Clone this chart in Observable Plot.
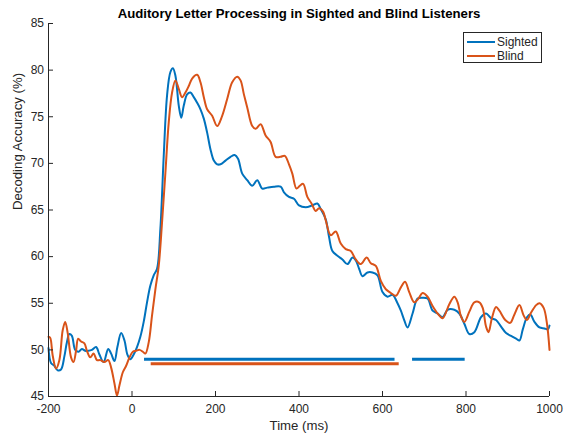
<!DOCTYPE html>
<html><head><meta charset="utf-8">
<script src="https://cdn.jsdelivr.net/npm/d3@7"></script>
<script src="https://cdn.jsdelivr.net/npm/@observablehq/plot@0.6"></script>
<style>
body{margin:0;background:#fff;}
#wrap{position:relative;width:564px;height:436px;font-family:"Liberation Sans",Arial,sans-serif;}
#legend{position:absolute;left:463px;top:32px;width:79px;height:31px;border:1px solid #262626;background:#fff;box-sizing:border-box;font-size:12px;color:#262626;}
.row{position:absolute;left:3px;height:14px;display:flex;align-items:center;white-space:nowrap;}
.sw{width:28px;height:2px;margin-right:2px;}
</style></head>
<body><div id="wrap"><div id="legend"></div></div>
<script>
const title = "Auditory Letter Processing in Sighted and Blind Listeners";
const xLabel = "Time (ms)";
const yLabel = "Decoding Accuracy (%)";
const seriesNames = ["Sighted", "Blind"];
const seriesColors = ["#0072BD", "#D95319"];
const xTicks = [-200, 0, 200, 400, 600, 800, 1000];
const yTicks = [45, 50, 55, 60, 65, 70, 75, 80, 85];

const sightedTime = [-200,-194,-186,-178,-170,-162,-156,-150,-144,-136,-128,-120,-112,-104,-96,-86,-78,-68,-57,-50,-42,-35,-26,-18,-11,-4,4,12,20,28,36,44,52,60,68,76,84,92,98,104,112,118,124,132,140,148,156,164,172,180,188,196,204,212,224,236,246,254,264,276,288,300,312,324,340,356,364,376,388,400,416,432,444,452,464,472,480,492,504,516,528,536,544,552,564,576,588,600,612,624,636,644,652,660,672,684,696,708,720,732,744,756,772,784,796,808,820,836,848,860,872,884,896,908,920,928,936,946,954,964,976,988,996,1000];
const sightedAcc = [50.2,48.6,48.3,47.8,47.9,49.3,50.8,51.7,51.5,50.0,49.8,50.1,49.9,49.9,50.0,50.3,49.5,48.7,50.1,49.6,48.8,50.3,51.8,51.0,49.5,49.0,49.5,50.3,51.4,53.0,55.1,56.9,58.0,58.7,63.0,70.8,77.3,79.8,80.2,79.4,76.2,74.9,76.2,77.4,77.6,77.1,76.5,75.8,74.8,73.3,71.5,70.3,69.9,69.9,70.3,70.7,70.9,70.5,68.9,68.2,67.6,68.2,67.3,67.4,67.5,67.5,66.9,66.4,66.2,65.5,65.3,65.5,65.7,65.1,64.0,62.1,60.6,60.1,59.7,59.2,59.9,59.6,58.7,57.9,58.3,58.3,58.0,56.2,55.7,55.9,55.0,54.2,53.2,52.4,53.9,55.5,55.6,55.5,54.2,53.9,53.5,54.3,54.3,53.9,52.8,51.7,51.9,53.5,53.9,53.4,53.2,52.5,51.8,51.5,51.2,51.0,52.2,53.5,53.8,53.0,52.4,52.3,52.2,52.6];

const blindTime = [-200,-196,-190,-182,-174,-166,-160,-154,-146,-140,-134,-129,-122,-114,-108,-100,-92,-84,-76,-66,-57,-50,-42,-36,-30,-22,-14,-6,2,10,18,26,32,40,48,56,64,72,80,88,96,104,112,120,128,136,144,156,164,172,180,192,204,216,228,240,252,260,268,276,288,296,308,320,332,344,356,366,376,384,394,402,410,420,430,440,448,458,464,476,488,500,512,524,536,548,562,572,584,596,608,620,632,644,654,664,676,686,696,708,720,732,744,760,772,780,788,796,808,820,832,840,848,854,862,872,880,894,906,916,928,938,946,956,968,976,986,994,1000];
const blindAcc = [51.4,51.3,49.4,48.0,48.9,52.1,53.0,51.8,49.2,48.7,49.9,51.2,50.9,50.7,49.9,49.2,49.6,48.9,48.9,48.7,48.9,48.1,46.4,45.1,46.2,47.6,48.3,49.2,49.8,49.9,50.0,49.8,49.6,50.8,53.7,56.5,59.0,63.7,69.0,74.4,77.6,78.9,78.0,77.1,77.6,78.3,79.1,79.5,78.7,77.1,75.8,75.1,74.0,75.1,76.9,78.7,79.3,78.9,77.4,76.0,74.0,73.7,74.2,73.0,72.3,70.7,70.7,70.8,69.9,68.9,67.3,67.6,67.8,66.4,65.7,64.9,65.2,64.8,63.9,62.3,62.7,61.4,60.8,60.6,59.7,59.2,59.9,59.3,59.0,57.4,56.5,56.1,55.8,56.7,57.3,56.2,55.1,55.5,56.1,55.7,54.7,53.9,53.4,54.9,55.7,55.1,53.6,53.0,54.1,55.1,55.1,54.5,52.5,51.9,53.4,54.6,54.2,53.2,52.9,53.8,54.8,53.7,53.2,54.0,54.8,55.0,54.5,52.8,50.0];

// significant time windows (ms) and the accuracy level each bar is drawn at
const sightedSigStart = [30, 672];
const sightedSigEnd = [630, 798];
const blindSigStart = [46];
const blindSigEnd = [640];
const sigLevels = [49, 48.5];

const sighted = sightedTime.map((t, i) => ({t, v: sightedAcc[i]}));
const blind = blindTime.map((t, i) => ({t, v: blindAcc[i]}));
const sigS = sightedSigStart.map((s, i) => ({s, e: sightedSigEnd[i]}));
const sigB = blindSigStart.map((s, i) => ({s, e: blindSigEnd[i]}));

const ink = "#262626";
const plot = Plot.plot({
  width: 564, height: 436,
  marginLeft: 48, marginRight: 15, marginTop: 23, marginBottom: 40,
  style: {fontFamily: "'Liberation Sans', Arial, sans-serif", fontSize: "12px", color: ink, background: "white", overflow: "visible"},
  x: {domain: [xTicks[0], xTicks[xTicks.length - 1]]},
  y: {domain: [yTicks[0], yTicks[yTicks.length - 1]]},
  marks: [
    Plot.ruleY(sigS, {y: sigLevels[0], x1: "s", x2: "e", stroke: seriesColors[0], strokeWidth: 3}),
    Plot.ruleY(sigB, {y: sigLevels[1], x1: "s", x2: "e", stroke: seriesColors[1], strokeWidth: 3}),
    Plot.line(sighted, {x: "t", y: "v", stroke: seriesColors[0], strokeWidth: 2, curve: "catmull-rom"}),
    Plot.line(blind, {x: "t", y: "v", stroke: seriesColors[1], strokeWidth: 2, curve: "catmull-rom"}),
    Plot.ruleX([xTicks[0]], {stroke: ink}),
    Plot.ruleY([yTicks[0]], {stroke: ink}),
    Plot.axisX({ticks: xTicks, tickSize: -5, tickPadding: 13, label: null, tickFormat: d => String(d), stroke: ink}),
    Plot.axisY({ticks: yTicks, tickSize: -5, tickPadding: 9.5, label: null, tickFormat: d => String(d), stroke: ink}),
    Plot.text([title], {text: d => d, frameAnchor: "top", dy: -6, lineAnchor: "bottom", fontWeight: "bold", fontSize: 13.2, fill: "black"}),
    Plot.text([xLabel], {text: d => d, frameAnchor: "bottom", dy: 24, lineAnchor: "top", fontSize: 13.2}),
    Plot.text([yLabel], {text: d => d, frameAnchor: "left", dx: -31, rotate: -90, fontSize: 13.2})
  ]
});
document.getElementById("wrap").prepend(plot);

const legend = document.getElementById("legend");
seriesNames.forEach((name, i) => {
  const row = document.createElement("div");
  row.className = "row";
  row.style.top = (2 + i * 14) + "px";
  const sw = document.createElement("span");
  sw.className = "sw";
  sw.style.background = seriesColors[i];
  const label = document.createElement("span");
  label.textContent = name;
  row.append(sw, label);
  legend.append(row);
});
</script>
</body></html>
